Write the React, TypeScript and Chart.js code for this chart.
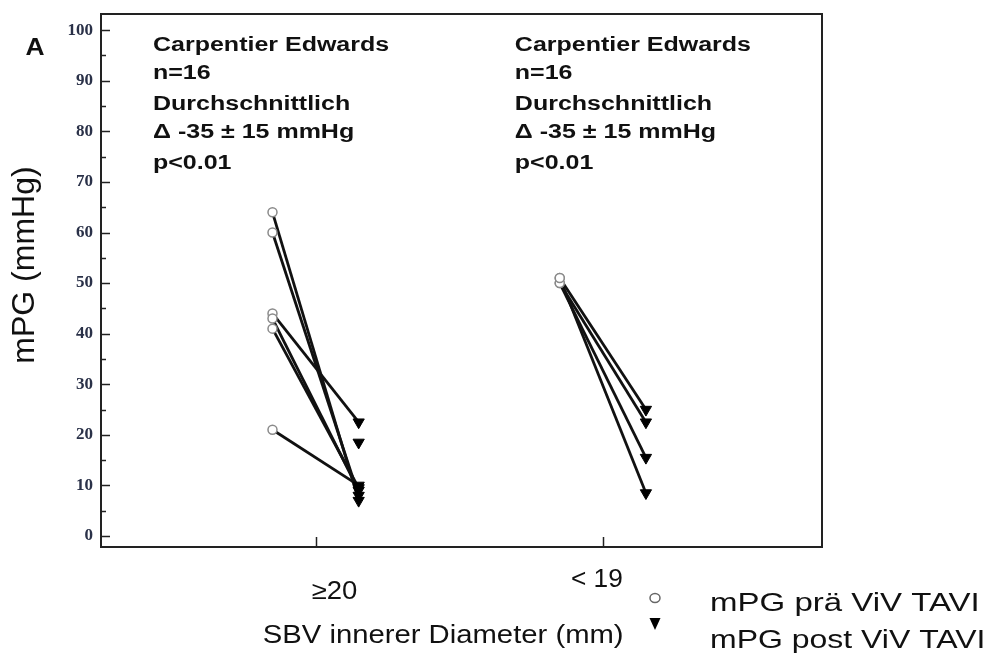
import { useEffect, useRef } from 'react';
import { Chart, registerables } from 'chart.js';

Chart.register(...registerables);

// ---------- data ----------
const groupLabels = ['≥20', '< 19'];
const groupPositions = [1, 2];

const leftPre = [64, 60, 44, 43, 41, 21];
const leftPost = [7, 8, 22.5, 9, 9.5, 10];
const leftUnpairedPost = [18.5];

const rightPre = [51, 50, 50, 51];
const rightPost = [25, 22.5, 15.5, 8.5];

const yTickValues = [0, 5, 10, 15, 20, 25, 30, 35, 40, 45, 50, 55, 60, 65, 70, 75, 80, 85, 90, 95, 100];
const yTickLabels = ['0', '10', '20', '30', '40', '50', '60', '70', '80', '90', '100'];

const annotationLines = ['Carpentier Edwards', 'n=16', 'Durchschnittlich', 'Δ -35 ± 15 mmHg', 'p<0.01'];
const xAxisTitle = 'SBV innerer Diameter (mm)';
const yAxisTitle = 'mPG (mmHg)';
const legendLabels = ['mPG prä ViV TAVI', 'mPG post ViV TAVI'];
const panelLabel = 'A';

// ---------- styling constants ----------
const OFFSET = 0.15;
const SANS = '"Liberation Sans", Arial, sans-serif';
const SERIF = '"Liberation Serif", "Times New Roman", serif';

function drawText(
  ctx: CanvasRenderingContext2D,
  text: string,
  x: number,
  y: number,
  font: string,
  align: CanvasTextAlign,
  sx = 1,
  color = '#111'
) {
  ctx.save();
  ctx.font = font;
  ctx.fillStyle = color;
  ctx.textAlign = align;
  ctx.textBaseline = 'middle';
  ctx.translate(x, y);
  ctx.scale(sx, 1);
  ctx.fillText(text, 0, 0);
  ctx.restore();
}

const decorPlugin = {
  id: 'decor',
  beforeDatasetsDraw(chart: any) {
    const { ctx, chartArea } = chart;
    const { left, top, right, bottom } = chartArea;
    const xs = chart.scales.x;
    const ys = chart.scales.y;
    ctx.save();
    ctx.strokeStyle = '#222';
    ctx.lineWidth = 2;
    ctx.strokeRect(left, top, right - left, bottom - top);
    ctx.lineWidth = 1.5;
    yTickValues.forEach((v) => {
      const py = Math.round(ys.getPixelForValue(v)) + 0.5;
      const major = v % 10 === 0;
      ctx.beginPath();
      ctx.moveTo(left, py);
      ctx.lineTo(left + (major ? 9 : 5), py);
      ctx.stroke();
    });
    groupPositions.forEach((g) => {
      const px = Math.round(xs.getPixelForValue(g)) + 0.5;
      ctx.beginPath();
      ctx.moveTo(px, bottom);
      ctx.lineTo(px, bottom - 10);
      ctx.stroke();
    });
    ctx.restore();
  },
  afterDraw(chart: any) {
    const { ctx, chartArea } = chart;
    const { left, top, right, bottom } = chartArea;
    const xs = chart.scales.x;
    const ys = chart.scales.y;

    // y tick labels
    yTickLabels.forEach((lab) => {
      const py = ys.getPixelForValue(Number(lab));
      drawText(ctx, lab, left - 8, py, `bold 17px ${SERIF}`, 'right', 1, '#2a3148');
    });

    // panel label
    drawText(ctx, panelLabel, 35, 48, `bold 24px ${SANS}`, 'center', 1.1);

    // y title
    ctx.save();
    ctx.translate(25, 265);
    ctx.rotate(-Math.PI / 2);
    ctx.font = `32px ${SANS}`;
    ctx.fillStyle = '#111';
    ctx.textAlign = 'center';
    ctx.textBaseline = 'middle';
    ctx.fillText(yAxisTitle, 0, 0);
    ctx.restore();

    // annotation blocks
    const lineYs = [45, 73, 104, 132, 163];
    const blockX = [left + 52, xs.getPixelForValue(groupPositions[1]) - 88];
    blockX.forEach((bx) => {
      annotationLines.forEach((t, i) => {
        drawText(ctx, t, bx, lineYs[i], `bold 20px ${SANS}`, 'left', 1.25);
      });
    });

    // group labels
    const g1 = xs.getPixelForValue(groupPositions[0]);
    const g2 = xs.getPixelForValue(groupPositions[1]);
    drawText(ctx, groupLabels[0], g1 + 19, bottom + 45, `25px ${SANS}`, 'center', 1.1);
    drawText(ctx, groupLabels[1], g2 - 6, bottom + 33, `25px ${SANS}`, 'center', 1.05);
    drawText(ctx, xAxisTitle, (g1 + g2) / 2 - 16, bottom + 89, `25px ${SANS}`, 'center', 1.17);

    // legend
    const lx = right - 167;
    ctx.save();
    ctx.strokeStyle = '#666';
    ctx.lineWidth = 1.5;
    ctx.beginPath();
    ctx.ellipse(lx, bottom + 51, 5, 4.5, 0, 0, Math.PI * 2);
    ctx.stroke();
    ctx.fillStyle = '#000';
    ctx.beginPath();
    ctx.moveTo(lx - 5.5, bottom + 71);
    ctx.lineTo(lx + 5.5, bottom + 71);
    ctx.lineTo(lx, bottom + 83);
    ctx.closePath();
    ctx.fill();
    ctx.restore();
    drawText(ctx, legendLabels[0], lx + 55, bottom + 57, `26px ${SANS}`, 'left', 1.27);
    drawText(ctx, legendLabels[1], lx + 55, bottom + 94, `26px ${SANS}`, 'left', 1.23);
  },
};

export default function App() {
  const ref = useRef<HTMLCanvasElement | null>(null);

  useEffect(() => {
    if (!ref.current) return;

    const lineSets: any[] = [];
    const pairs: [number[], number[], number][] = [
      [leftPre, leftPost, groupPositions[0]],
      [rightPre, rightPost, groupPositions[1]],
    ];
    const prePts: any[] = [];
    const postPts: any[] = [];
    pairs.forEach(([pre, post, g]) => {
      pre.forEach((v, i) => {
        lineSets.push({
          data: [
            { x: g - OFFSET, y: v },
            { x: g + OFFSET, y: post[i] },
          ],
          showLine: true,
          borderColor: '#111',
          borderWidth: 2.8,
          pointRadius: 0,
          order: 1,
        });
        prePts.push({ x: g - OFFSET, y: v });
        postPts.push({ x: g + OFFSET, y: post[i] });
      });
    });
    leftUnpairedPost.forEach((v) => postPts.push({ x: groupPositions[0] + OFFSET, y: v }));

    const chart = new Chart(ref.current, {
      type: 'scatter',
      data: {
        datasets: [
          {
            data: prePts,
            pointStyle: 'circle',
            pointRadius: 4.5,
            backgroundColor: '#fff',
            borderColor: '#8a8a8a',
            borderWidth: 1.5,
            order: 0,
          },
          {
            data: postPts,
            pointStyle: 'triangle',
            rotation: 180,
            pointRadius: 6.5,
            backgroundColor: '#000',
            borderColor: '#000',
            borderWidth: 1,
            order: 0,
          },
          ...lineSets,
        ],
      },
      options: {
        responsive: false,
        animation: false,
        devicePixelRatio: 1,
        layout: { padding: { top: 14, right: 175, left: 0, bottom: 0 } },
        plugins: { legend: { display: false }, tooltip: { enabled: false } },
        scales: {
          x: {
            type: 'linear',
            min: 0.253,
            max: 2.763,
            ticks: { display: false },
            grid: { display: false },
            border: { display: false },
            afterFit: (s: any) => {
              s.height = 115;
            },
          },
          y: {
            type: 'linear',
            min: -2.17,
            max: 103.2,
            ticks: { display: false },
            grid: { display: false },
            border: { display: false },
            afterFit: (s: any) => {
              s.width = 101;
            },
          },
        },
      },
      plugins: [decorPlugin],
    } as any);

    return () => chart.destroy();
  }, []);

  return (
    <div style={{ position: 'absolute', left: 0, top: 0, width: 997, height: 662, background: '#fff' }}>
      <canvas ref={ref} width={997} height={662} style={{ display: 'block' }} />
    </div>
  );
}
